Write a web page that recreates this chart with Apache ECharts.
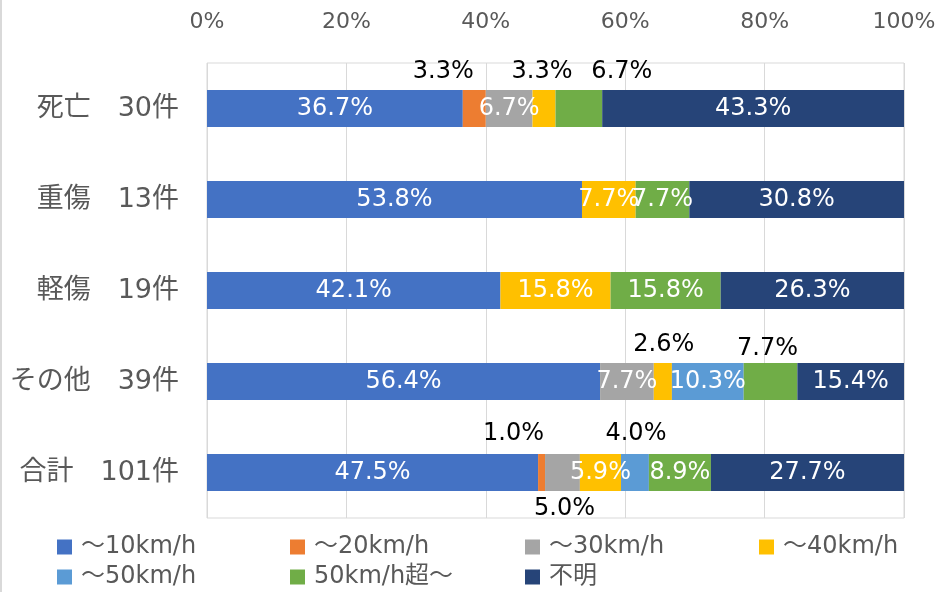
<!DOCTYPE html>
<html>
<head>
<meta charset="utf-8">
<script src="https://cdn.jsdelivr.net/npm/echarts@6/dist/echarts.min.js"></script>
<style>
  html, body { margin: 0; padding: 0; background: #fff; }
  #chart { width: 941px; height: 592px; border-left: 2px solid #d9d9d9; box-sizing: border-box; }
</style>
</head>
<body>
<div id="chart"></div>
<script>
  // カテゴリ（上から順）
  const categories = ['死亡　30件', '重傷　13件', '軽傷　19件', 'その他　39件', '合計　101件'];
  const seriesNames = ['～10km/h', '～20km/h', '～30km/h', '～40km/h', '～50km/h', '50km/h超～', '不明'];
  const colors = ['#4472C4', '#ED7D31', '#A5A5A5', '#FFC000', '#5B9BD5', '#70AD47', '#264478'];
  const tickLabels = ['0%', '20%', '40%', '60%', '80%', '100%'];

  // 構成比(%)
  const speed10 = [36.7, 53.8, 42.1, 56.4, 47.5];
  const speed20 = [3.3, 0, 0, 0, 1.0];
  const speed30 = [6.7, 0, 0, 7.7, 5.0];
  const speed40 = [3.3, 7.7, 15.8, 2.6, 5.9];
  const speed50 = [0, 0, 0, 10.3, 4.0];
  const over50 = [6.7, 7.7, 15.8, 7.7, 8.9];
  const unknown = [43.3, 30.8, 26.3, 15.4, 27.7];
  const values = [speed10, speed20, speed30, speed40, speed50, over50, unknown];

  // 小さい値のラベルはバーの外に出す [系列, カテゴリ, 位置, dx, 距離]
  const outside = [
    [1, 0, 'top', -31, 6],
    [3, 0, 'top', -2, 6],
    [5, 0, 'top', 43, 6],
    [3, 3, 'top', 1, 6],
    [5, 3, 'top', -3, 2],
    [1, 4, 'top', -28, 8],
    [2, 4, 'bottom', 2, 6],
    [4, 4, 'top', 1, 8]
  ];

  const font = '"DejaVu Sans", "Noto Sans CJK JP", sans-serif';

  let chart = echarts.init(document.getElementById('chart'));

  const series = seriesNames.map(function (name, si) {
    return {
      name: name,
      type: 'bar',
      stack: 'total',
      barWidth: 37,
      itemStyle: { color: colors[si] },
      label: {
        show: true,
        position: 'inside',
        color: '#fff',
        fontSize: 24,
        fontFamily: font,
        formatter: function (p) {
          return p.value > 0 ? p.value.toFixed(1) + '%' : '';
        }
      },
      data: values[si].map(function (v, ci) {
        const o = outside.find(function (r) { return r[0] === si && r[1] === ci; });
        if (!o) return v;
        return {
          value: v,
          label: { position: o[2], offset: [o[3], 0], distance: o[4], color: '#000' }
        };
      })
    };
  });

  // 凡例は4列
  const legendCols = [
    [seriesNames[0], seriesNames[4]],
    [seriesNames[1], seriesNames[5]],
    [seriesNames[2], seriesNames[6]],
    [seriesNames[3]]
  ];
  const legendLeft = [55, 288, 523, 757];
  const legends = legendCols.map(function (names, i) {
    return {
      data: names,
      orient: 'vertical',
      left: legendLeft[i],
      top: 535,
      padding: 0,
      height: 70,
      itemWidth: 15,
      itemHeight: 15,
      itemGap: 6,
      icon: 'rect',
      textStyle: { color: '#595959', fontSize: 24, fontFamily: font, padding: [0, 0, 0, 4] }
    };
  });

  chart.setOption({
    animation: false,
    textStyle: { fontFamily: font },
    grid: { left: 205, right: 37, top: 63, bottom: 74, show: true, borderColor: '#d9d9d9', borderWidth: 1 },
    legend: legends,
    xAxis: {
      type: 'value',
      position: 'top',
      min: 0,
      max: 100,
      interval: 20,
      axisLine: { show: false },
      axisTick: { show: false },
      axisLabel: {
        color: '#595959',
        fontSize: 22,
        margin: 30,
        formatter: function (v) { return tickLabels[v / 20]; }
      },
      splitLine: { lineStyle: { color: '#d9d9d9' } }
    },
    yAxis: {
      type: 'category',
      inverse: true,
      data: categories,
      axisLine: { show: false },
      axisTick: { show: false },
      axisLabel: { color: '#595959', fontSize: 27, fontFamily: font, margin: 28 }
    },
    series: series
  });
</script>
</body>
</html>
